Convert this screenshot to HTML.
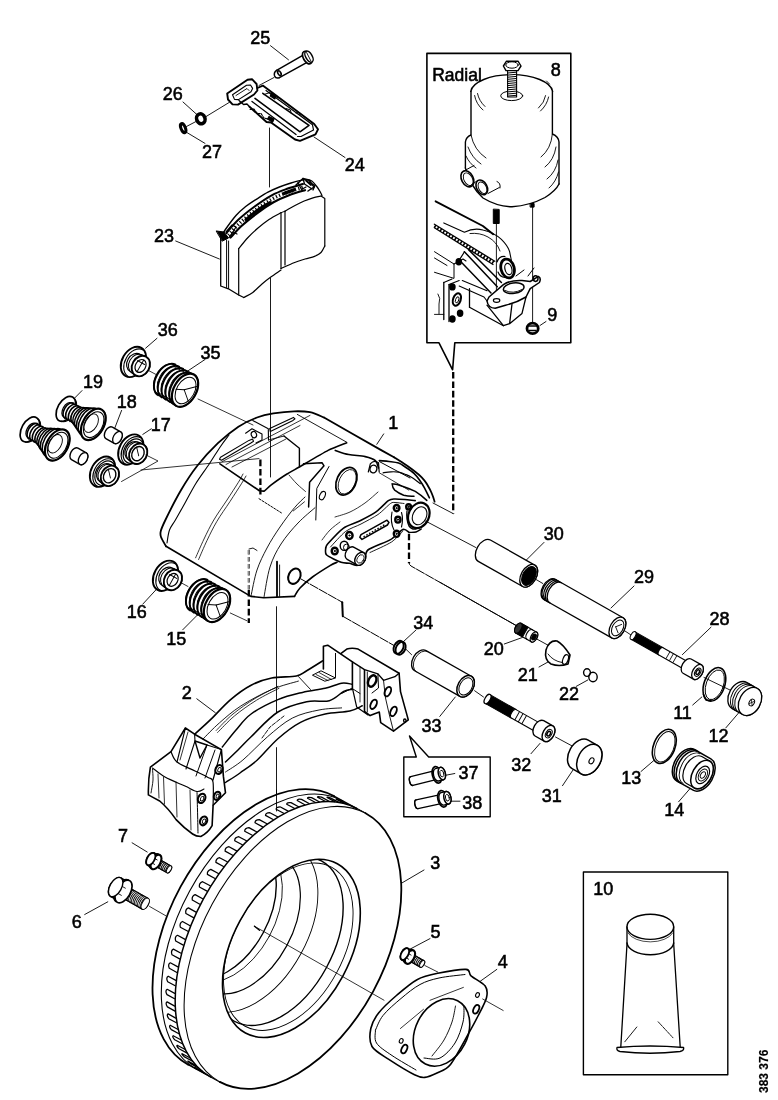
<!DOCTYPE html>
<html><head><meta charset="utf-8"><title>diagram</title>
<style>
html,body{margin:0;padding:0;background:#fff;}
body{width:778px;height:1100px;overflow:hidden;font-family:"Liberation Sans",sans-serif;}
svg{display:block;position:absolute;left:0;top:0;will-change:transform;}
svg path,svg ellipse,svg circle,svg rect,svg line{stroke:#000;stroke-linecap:round;stroke-linejoin:round;}
svg text{font-family:"Liberation Sans",sans-serif;fill:#000;stroke:#000;stroke-width:0.55;}
</style></head><body>
<svg width="778" height="1100" viewBox="0 0 778 1100" fill="none">
<rect x="0" y="0" width="778" height="1100" fill="#fff" stroke="none" style="stroke:none"/>
<text x="250.2" y="44.0" font-size="18" >25</text>
<text x="162.7" y="100.0" font-size="18" >26</text>
<text x="202.1" y="157.8" font-size="18" >27</text>
<text x="344.7" y="170.7" font-size="18" >24</text>
<text x="154.0" y="241.6" font-size="18" >23</text>
<text x="157.7" y="336.0" font-size="18" >36</text>
<text x="200.5" y="358.5" font-size="18" >35</text>
<text x="83.10000000000001" y="388.0" font-size="18" >19</text>
<text x="116.7" y="408.0" font-size="18" >18</text>
<text x="150.7" y="430.6" font-size="18" >17</text>
<text x="388.2" y="429.0" font-size="18" >1</text>
<text x="126.7" y="617.5" font-size="18" >16</text>
<text x="166.29999999999998" y="645.2" font-size="18" >15</text>
<text x="181.7" y="698.5" font-size="18" >2</text>
<text x="543.7" y="540.0" font-size="18" >30</text>
<text x="634.0" y="582.7" font-size="18" >29</text>
<text x="709.5" y="625.0" font-size="18" >28</text>
<text x="483.7" y="654.8" font-size="18" >20</text>
<text x="517.7" y="680.7" font-size="18" >21</text>
<text x="558.9000000000001" y="699.5" font-size="18" >22</text>
<text x="413.2" y="628.5" font-size="18" >34</text>
<text x="421.59999999999997" y="731.6" font-size="18" >33</text>
<text x="511.3" y="770.5" font-size="18" >32</text>
<text x="541.7" y="801.9" font-size="18" >31</text>
<text x="673.2" y="718.7" font-size="18" >11</text>
<text x="708.5" y="741.6" font-size="18" >12</text>
<text x="621.3000000000001" y="784.0" font-size="18" >13</text>
<text x="664.2" y="816.0" font-size="18" >14</text>
<text x="458.59999999999997" y="778.9" font-size="18" >37</text>
<text x="462.3" y="808.5" font-size="18" >38</text>
<text x="430.2" y="869.3" font-size="18" >3</text>
<text x="430.5" y="937.6" font-size="18" >5</text>
<text x="497.7" y="968.2" font-size="18" >4</text>
<text x="118.0" y="841.8" font-size="18" >7</text>
<text x="71.7" y="928.0" font-size="18" >6</text>
<text x="593.2" y="895.0" font-size="18" >10</text>
<text x="550.7" y="76.2" font-size="18" >8</text>
<text x="547.3000000000001" y="320.6" font-size="18" >9</text>
<text x="432.2" y="81.0" font-size="17.5" >Radial</text>
<text x="0" y="0" font-size="12" font-weight="bold" transform="translate(767.5,1093) rotate(-90)" style="stroke-width:0.2">383 376</text>
<path d="M426.9,53.4 H570.8 V342.8 H454.8 L452.6,369.8 L439,342.8 H426.9 Z" stroke-width="1.6" fill="none" />
<path d="M453.2,372.0L453.2,513.6" stroke-width="2.3" stroke-dasharray="6.6 2.8" style="stroke-linecap:butt"/>
<path d="M403.8,757 H416.3 L409.5,736 L428.7,757 H490.2 V816.7 H403.8 Z" stroke-width="1.4" fill="none" />
<path d="M583.4,872 H727.8 V1074.7 H583.4 Z" stroke-width="1.4" fill="none" />
<path d="M270.5,45.7L288.5,59.8" stroke-width="0.9" />
<path d="M183.0,102.0L198.5,116.0" stroke-width="0.9" />
<path d="M185.7,131.8L205.0,143.4" stroke-width="0.9" />
<path d="M314.0,137.0L345.0,157.5" stroke-width="0.9" />
<path d="M175.7,241.0L219.4,259.0" stroke-width="0.9" />
<path d="M544.0,542.4L526.0,560.4" stroke-width="0.9" />
<path d="M634.0,586.0L611.0,608.0" stroke-width="0.9" />
<path d="M504.3,644.0L522.3,637.5" stroke-width="0.9" />
<path d="M539.0,667.0L548.0,662.0" stroke-width="0.9" />
<path d="M576.2,686.4L587.8,680.0" stroke-width="0.9" />
<path d="M455.3,697.0L439.8,716.4" stroke-width="0.9" />
<path d="M540.0,743.4L531.0,753.7" stroke-width="0.9" />
<path d="M562.5,785.7L573.2,769.7" stroke-width="0.9" />
<path d="M641.0,771.5L653.6,760.7" stroke-width="0.9" />
<path d="M678.6,801.8L689.4,789.3" stroke-width="0.9" />
<path d="M711.0,627.2L682.4,654.6" stroke-width="0.9" />
<path d="M692.7,705.0L701.8,697.0" stroke-width="0.9" />
<path d="M725.8,727.9L739.6,711.8" stroke-width="0.9" />
<path d="M444.5,775.5L454.8,773.5" stroke-width="0.9" />
<path d="M450.7,801.2L460.0,801.2" stroke-width="0.9" />
<path d="M424.0,870.0L401.0,883.5" stroke-width="0.9" />
<path d="M430.0,938.6L410.7,948.8" stroke-width="0.9" />
<path d="M496.8,969.4L478.8,982.3" stroke-width="0.9" />
<path d="M132.1,842.8L147.2,852.0" stroke-width="0.9" />
<path d="M84.7,914.5L107.8,901.8" stroke-width="0.9" />
<path d="M383.7,433.9L376.8,444.3" stroke-width="0.9" />
<path d="M157.0,588.7L142.9,604.0" stroke-width="0.9" />
<path d="M199.4,613.0L182.7,629.8" stroke-width="0.9" />
<path d="M276.6,70.4 L303.6,54.8 M279.4,77.6 L306.6,62.6" stroke-width="1.5" fill="none" />
<path d="M276.6,70.4 Q273.5,72.5 274.6,76 Q276,79 279.4,77.6" stroke-width="1.5" fill="none" />
<ellipse cx="279.4" cy="73.2" rx="1.4" ry="2.6" transform="rotate(-30 279.4 73.2)" stroke-width="1.6" fill="none" />
<ellipse cx="307.2" cy="57.6" rx="3.8" ry="6.9" transform="rotate(-30 307.2 57.6)" stroke-width="1.7" fill="#fff" />
<ellipse cx="309.0" cy="56.6" rx="3.2" ry="6.2" transform="rotate(-30 309.0 56.6)" stroke-width="1.5" fill="#fff" />
<path d="M306.6,52.5 L310.8,60.8" stroke-width="0.9" fill="none" />
<path d="M274.0,77.5L259.0,85.5" stroke-width="0.9" />
<path d="M229.4,102.3L206.3,116.4" stroke-width="0.9" />
<path d="M227.2,93.5 L247.5,79.8 L252.0,79.2 L256.6,84.0 L257.4,90.5 L254.0,94.5 L238.0,104.6 L232.5,104.4 L228.0,99.5 Z" stroke-width="1.9" fill="#fff" />
<path d="M232.5,94.8 L246.5,85.2 L250.5,85.0 L252.6,88.4 L251.0,91.8 L238.5,99.6 L234.5,99.4 Z" stroke-width="1.1" fill="none" />
<path d="M236.0,95.5 L247.0,88.5 L249.0,90.5" stroke-width="0.9" fill="none" />
<path d="M239.0,100.5 L243.5,104.5 L247.0,104.0 L249.5,106.8" stroke-width="1.3" fill="none" />
<path d="M257.5,88.0 L262.8,85.6 L314.2,124.0 L318.0,129.3 L315.5,134.4 L300.0,140.8 L295.0,139.5 L271.0,122.5 L266.5,122.0 L249.5,106.8" stroke-width="1.9" fill="none" />
<path d="M262.8,93.3 L309.0,125.4 L300.0,131.8 L255.0,98.4" stroke-width="1.6" fill="none" />
<path d="M266.0,90.5 L312.5,124.8 L313.5,130.0 L301.0,136.5 L297.5,136.5" stroke-width="1.2" fill="none" />
<path d="M252.0,101.5 L296.0,134.5" stroke-width="1.3" fill="none" />
<path d="M271.5,93 l4.5,3 l-1.2,3 l-4.5,-3 Z" stroke-width="1.2" fill="#000" />
<path d="M269,116.5 l5,2.6 l-1.4,3.2 l-5,-3.2 Z" stroke-width="1.2" fill="#000" />
<path d="M250.0,109.5 L254.0,109.0 L257.0,113.5 L261.0,113.5 L264.0,118.0 L268.0,119.0" stroke-width="1.1" fill="none" stroke-dasharray="2.2 1.2"/>
<path d="M264.0,94.5 L270.0,92.5 L274.0,96.0 L280.0,98.5" stroke-width="1.0" fill="none" />
<path d="M286.0,108.5 L290.5,110.0 L291.0,113.0" stroke-width="1.0" fill="none" />
<path d="M296.0,113.0 L299.0,112.5 L300.0,115.0" stroke-width="1.0" fill="none" />
<ellipse cx="200.8" cy="118.8" rx="4.2" ry="5.0" transform="rotate(-20 200.8 118.8)" stroke-width="3.6" fill="none" />
<ellipse cx="183.2" cy="128.2" rx="2.2" ry="4.8" transform="rotate(-22 183.2 128.2)" stroke-width="3.0" fill="none" />
<path d="M186.5,126.5L196.0,121.5" stroke-width="0.9" />
<path d="M269.5,128.0L269.5,187.0" stroke-width="0.9" />
<path d="M270.5,278.0L270.5,477.0" stroke-width="0.9" />
<path d="M220.7,238.4 L220.7,286.0 L228.4,288.8 L238.7,295.0 L243.8,297.5" stroke-width="1.3" fill="none" />
<path d="M226.6,240.0L226.6,287.5" stroke-width="1.0" />
<path d="M228.6,241.0L228.6,288.5" stroke-width="1.0" />
<path d="M238.7,248.7L238.7,295.0" stroke-width="1.2" />
<path d="M238.7,248.7 C240.2,246.8 244.8,240.9 248.0,237.5 C251.2,234.1 254.5,231.0 258.0,228.0 C261.5,225.0 265.2,222.1 269.0,219.5 C272.8,216.9 279.0,213.8 281.0,212.7" stroke-width="1.2" fill="none" />
<path d="M285.0,211.2 C286.7,210.2 291.8,207.2 295.0,205.5 C298.2,203.8 301.2,202.3 304.2,201.0 C307.2,199.7 310.2,198.6 313.0,197.8 C315.8,197.0 319.7,196.3 321.0,196.0" stroke-width="1.2" fill="none" />
<path d="M321.0,196.0 L324.8,198.6 L324.8,246.0" stroke-width="1.2" fill="none" />
<path d="M243.8,297.5 C245.3,296.6 249.8,294.6 252.8,292.4 C255.8,290.1 259.0,286.6 262.0,284.0 C265.0,281.4 267.6,279.3 270.8,277.0 C274.0,274.7 279.3,271.2 281.0,270.0" stroke-width="1.2" fill="none" />
<path d="M281.0,268.5 C283.2,267.6 290.0,264.4 294.0,262.8 C298.0,261.2 301.6,260.1 305.0,259.0 C308.4,257.9 311.8,257.5 314.5,256.4 C317.2,255.3 319.3,254.2 321.0,252.5 C322.7,250.8 324.2,247.1 324.8,246.0" stroke-width="1.2" fill="none" />
<path d="M281.0,212.7L281.0,268.5" stroke-width="1.2" />
<path d="M285.0,211.2L285.0,265.0" stroke-width="1.2" />
<path d="M281.0,212.7L285.0,211.2" stroke-width="1.0" />
<path d="M220.7,238.0 C221.5,236.6 222.8,233.3 225.4,229.5 C228.0,225.7 232.8,219.1 236.2,215.2 C239.6,211.3 242.7,209.0 246.0,206.3 C249.3,203.7 252.6,201.7 256.3,199.3 C260.0,197.0 264.1,194.2 268.0,192.2 C271.9,190.1 275.6,188.5 279.4,187.0 C283.2,185.5 287.1,184.2 291.0,183.0 C294.9,181.8 300.0,180.6 302.5,180.0 C305.0,179.4 305.4,179.7 306.0,179.6" stroke-width="1.4" fill="none" />
<path d="M306.0,179.6 C307.0,179.8 310.1,179.9 311.8,181.0 C313.5,182.1 315.0,184.2 316.4,186.0 C317.8,187.8 319.1,189.9 320.0,191.5 C320.9,193.1 321.7,194.8 322.0,195.5" stroke-width="1.3" fill="none" />
<path d="M226.5,233.0 C228.4,230.8 233.4,224.3 238.0,220.0 C242.6,215.7 248.4,211.1 254.0,207.0 C259.6,202.9 266.2,198.3 271.7,195.3 C277.2,192.3 281.9,190.7 287.1,188.8 C292.3,186.9 300.4,184.8 303.0,184.0" stroke-width="2.0" fill="none" />
<path d="M230.5,237.5 C232.4,235.5 237.4,229.7 242.0,225.5 C246.6,221.3 252.8,216.4 258.0,212.5 C263.2,208.6 268.3,205.1 273.5,202.2 C278.7,199.3 283.8,197.2 289.0,195.2 C294.2,193.2 302.3,191.0 305.0,190.2" stroke-width="2.2" fill="none" />
<path d="M228.5,235.2 C230.4,233.1 235.4,227.0 240.0,222.8 C244.6,218.6 250.6,213.8 256.0,209.8 C261.4,205.8 267.3,201.8 272.6,198.8 C277.9,195.8 282.8,193.9 288.0,192.0 C293.2,190.1 301.3,187.9 304.0,187.1" stroke-width="3.6" fill="none" stroke-dasharray="1.2 2.2" style="stroke-linecap:butt"/>
<path d="M246.0,219.5 C248.0,217.9 254.0,212.8 258.0,210.0 C262.0,207.2 268.0,203.8 270.0,202.5" stroke-width="3.0" fill="none" />
<path d="M284.0,193.5 C285.7,192.9 292.3,190.4 294.0,189.8" stroke-width="3.4" fill="none" />
<path d="M216.5,231.0 L224.0,232.0 L228.5,238.0 L222.5,241.0 Z" stroke-width="1.0" fill="#000" />
<path d="M226.0,232.0 L232.0,225.0 L236.0,227.0 L231.0,235.0" stroke-width="1.2" fill="none" />
<path d="M229.0,237.5 L233.0,232.0 L237.0,234.0" stroke-width="1.2" fill="none" />
<path d="M296.0,185.0 L303.0,178.5 L309.0,180.0 L314.0,187.0 L308.0,191.0" stroke-width="1.5" fill="none" />
<path d="M303.0,178.5 L304.5,184.0 L312.0,189.0" stroke-width="1.3" fill="none" />
<path d="M298.0,182.5 L301.5,189.5 L306.0,187.0" stroke-width="1.3" fill="none" />
<path d="M306.0,180.5 L311.0,185.0" stroke-width="1.8" fill="none" />
<path d="M309.0,182.0 L315.0,185.5 L313.0,190.0" stroke-width="1.3" fill="none" />
<path d="M142.0,367.0L156.0,374.5" stroke-width="0.8" />
<path d="M198.0,399.0L253.0,425.0" stroke-width="0.8" />
<g transform="translate(133.4,361.9) rotate(29.5)"><ellipse cx="0.0" cy="0" rx="11.3" ry="16.2" stroke-width="1.9" fill="#fff"/><path d="M2.6,-15.2 A10.7,15.2 0 0 0 2.6,15.2" stroke-width="1.1"/><path d="M2.0,-10.0 L8.5,-10.7 A8.6,10.7 0 0 1 8.5,10.7 L2.0,10.0 A8.0,10.0 0 0 1 2.0,-10.0 Z" stroke-width="1.2" fill="#fff"/><ellipse cx="8.5" cy="0" rx="8.6" ry="10.7" stroke-width="1.9" fill="#fff"/><ellipse cx="8.2" cy="0" rx="5.1" ry="6.8" stroke-width="1.2" fill="none"/><path d="M4.5,-10.4 A8.3,10.4 0 0 0 4.5,10.4" stroke-width="1.0"/><path d="M3.0,-3.2 L11.0,-3.2" stroke-width="1.0"/><path d="M8.0,-6.8 L8.0,6.8" stroke-width="0.9"/></g>
<g transform="translate(185.0,390.2) rotate(29.5)"><path d="M-22.0,-16.7 L0.0,-18.0 A11.2,18.0 0 0 1 0.0,18.0 L-22.0,16.7 A10.4,16.7 0 0 1 -22.0,-16.7 Z" stroke-width="1.4" fill="#fff"/><path d="M-20.9,-17.6 A10.9,17.6 0 0 0 -20.9,17.6" stroke-width="1.9"/><path d="M-19.0,-15.5 A9.6,15.5 0 0 0 -19.0,15.5" stroke-width="0.9"/><path d="M-16.5,-17.6 A10.9,17.6 0 0 0 -16.5,17.6" stroke-width="1.9"/><path d="M-14.6,-15.5 A9.6,15.5 0 0 0 -14.6,15.5" stroke-width="0.9"/><path d="M-12.1,-17.6 A10.9,17.6 0 0 0 -12.1,17.6" stroke-width="1.9"/><path d="M-10.2,-15.5 A9.6,15.5 0 0 0 -10.2,15.5" stroke-width="0.9"/><path d="M-7.7,-17.6 A10.9,17.6 0 0 0 -7.7,17.6" stroke-width="1.9"/><path d="M-5.8,-15.5 A9.6,15.5 0 0 0 -5.8,15.5" stroke-width="0.9"/><path d="M-3.3,-17.6 A10.9,17.6 0 0 0 -3.3,17.6" stroke-width="1.9"/><path d="M-1.4,-15.5 A9.6,15.5 0 0 0 -1.4,15.5" stroke-width="0.9"/><ellipse cx="0.0" cy="0" rx="11.2" ry="18.0" stroke-width="2.2" fill="#fff"/><ellipse cx="0.6" cy="0" rx="8.9" ry="14.4" stroke-width="1.0" fill="none"/><path d="M-1.0,0.0 L8.4,-9.0" stroke-width="0.9"/><path d="M-1.0,0.0 L8.4,8.1" stroke-width="0.9"/><path d="M-1.0,0.0 L-8.4,3.6" stroke-width="0.9"/></g>
<g transform="translate(93.3,424.4) rotate(29.5)"><ellipse cx="-31.5" cy="0" rx="8.2" ry="13.6" stroke-width="1.7" fill="#fff"/><path d="M-29.8,-13.0 A7.8,13.0 0 0 1 -29.8,13.0" stroke-width="1.0"/><path d="M-29.5,-8.0 L-18.0,-8.5 A5.1,8.5 0 0 1 -18.0,8.5 L-29.5,8.0 A4.8,8.0 0 0 1 -29.5,-8.0 Z" stroke-width="1.2" fill="#fff"/><path d="M-27.5,-8.8 A5.3,8.8 0 0 0 -27.5,8.8" stroke-width="1.6"/><path d="M-24.5,-8.8 A5.3,8.8 0 0 0 -24.5,8.8" stroke-width="1.6"/><path d="M-21.5,-8.8 A5.3,8.8 0 0 0 -21.5,8.8" stroke-width="1.6"/><path d="M-18.5,-8.8 A5.3,8.8 0 0 0 -18.5,8.8" stroke-width="1.6"/><path d="M-18.0,-9.0 L0.0,-17.0 A10.5,17.0 0 0 1 0.0,17.0 L-18.0,9.0 A5.6,9.0 0 0 1 -18.0,-9.0 Z" stroke-width="1.2" fill="#fff"/><path d="M-15.0,-10.2 A6.3,10.2 0 0 0 -15.0,10.2" stroke-width="1.5"/><path d="M-11.5,-12.0 A7.4,12.0 0 0 0 -11.5,12.0" stroke-width="1.5"/><path d="M-8.0,-13.6 A8.4,13.6 0 0 0 -8.0,13.6" stroke-width="1.5"/><path d="M-4.5,-15.3 A9.5,15.3 0 0 0 -4.5,15.3" stroke-width="1.5"/><ellipse cx="0.0" cy="0" rx="10.5" ry="17.0" stroke-width="2.2" fill="#fff"/><ellipse cx="0.5" cy="0" rx="8.7" ry="14.0" stroke-width="1.1" fill="none"/><ellipse cx="-2.5" cy="0" rx="6.2" ry="10.0" stroke-width="0.9" fill="none"/></g>
<g transform="translate(57.3,445.0) rotate(29.5)"><ellipse cx="-31.5" cy="0" rx="8.2" ry="13.6" stroke-width="1.7" fill="#fff"/><path d="M-29.8,-13.0 A7.8,13.0 0 0 1 -29.8,13.0" stroke-width="1.0"/><path d="M-29.5,-8.0 L-18.0,-8.5 A5.1,8.5 0 0 1 -18.0,8.5 L-29.5,8.0 A4.8,8.0 0 0 1 -29.5,-8.0 Z" stroke-width="1.2" fill="#fff"/><path d="M-27.5,-8.8 A5.3,8.8 0 0 0 -27.5,8.8" stroke-width="1.6"/><path d="M-24.5,-8.8 A5.3,8.8 0 0 0 -24.5,8.8" stroke-width="1.6"/><path d="M-21.5,-8.8 A5.3,8.8 0 0 0 -21.5,8.8" stroke-width="1.6"/><path d="M-18.5,-8.8 A5.3,8.8 0 0 0 -18.5,8.8" stroke-width="1.6"/><path d="M-18.0,-9.0 L0.0,-17.0 A10.5,17.0 0 0 1 0.0,17.0 L-18.0,9.0 A5.6,9.0 0 0 1 -18.0,-9.0 Z" stroke-width="1.2" fill="#fff"/><path d="M-15.0,-10.2 A6.3,10.2 0 0 0 -15.0,10.2" stroke-width="1.5"/><path d="M-11.5,-12.0 A7.4,12.0 0 0 0 -11.5,12.0" stroke-width="1.5"/><path d="M-8.0,-13.6 A8.4,13.6 0 0 0 -8.0,13.6" stroke-width="1.5"/><path d="M-4.5,-15.3 A9.5,15.3 0 0 0 -4.5,15.3" stroke-width="1.5"/><ellipse cx="0.0" cy="0" rx="10.5" ry="17.0" stroke-width="2.2" fill="#fff"/><ellipse cx="0.5" cy="0" rx="8.7" ry="14.0" stroke-width="1.1" fill="none"/><ellipse cx="-2.5" cy="0" rx="6.2" ry="10.0" stroke-width="0.9" fill="none"/></g>
<g transform="translate(113.3,435.2) rotate(29.5)"><path d="M-4.8,-6.6 L4.8,-6.6 A4.1,6.6 0 0 1 4.8,6.6 L-4.8,6.6 A4.1,6.6 0 0 1 -4.8,-6.6 Z" stroke-width="1.4" fill="#fff"/><ellipse cx="4.8" cy="0" rx="4.1" ry="6.6" stroke-width="1.3" fill="#fff"/></g>
<g transform="translate(78.9,456.3) rotate(29.5)"><path d="M-4.8,-6.6 L4.8,-6.6 A4.1,6.6 0 0 1 4.8,6.6 L-4.8,6.6 A4.1,6.6 0 0 1 -4.8,-6.6 Z" stroke-width="1.4" fill="#fff"/><ellipse cx="4.8" cy="0" rx="4.1" ry="6.6" stroke-width="1.3" fill="#fff"/></g>
<g transform="translate(130.8,449.6) rotate(29.5)"><ellipse cx="0.0" cy="0" rx="11.3" ry="16.2" stroke-width="1.9" fill="#fff"/><path d="M2.6,-15.2 A10.7,15.2 0 0 0 2.6,15.2" stroke-width="1.1"/><ellipse cx="3.0" cy="0" rx="9.3" ry="13.0" stroke-width="1.2" fill="none"/><path d="M3.0,-10.0 L8.5,-10.7 A8.6,10.7 0 0 1 8.5,10.7 L3.0,10.0 A8.0,10.0 0 0 1 3.0,-10.0 Z" stroke-width="1.2" fill="#fff"/><ellipse cx="8.5" cy="0" rx="8.6" ry="10.7" stroke-width="1.9" fill="#fff"/><ellipse cx="8.2" cy="0" rx="5.8" ry="7.5" stroke-width="1.4" fill="none"/><path d="M5.0,-10.4 A8.3,10.4 0 0 0 5.0,10.4" stroke-width="1.0"/><path d="M4.0,-4.9 L10.0,1.6" stroke-width="0.9"/></g>
<g transform="translate(102.5,471.7) rotate(29.5)"><ellipse cx="0.0" cy="0" rx="11.3" ry="16.2" stroke-width="1.9" fill="#fff"/><path d="M2.6,-15.2 A10.7,15.2 0 0 0 2.6,15.2" stroke-width="1.1"/><ellipse cx="3.0" cy="0" rx="9.3" ry="13.0" stroke-width="1.2" fill="none"/><path d="M3.0,-10.0 L8.5,-10.7 A8.6,10.7 0 0 1 8.5,10.7 L3.0,10.0 A8.0,10.0 0 0 1 3.0,-10.0 Z" stroke-width="1.2" fill="#fff"/><ellipse cx="8.5" cy="0" rx="8.6" ry="10.7" stroke-width="1.9" fill="#fff"/><ellipse cx="8.2" cy="0" rx="5.8" ry="7.5" stroke-width="1.4" fill="none"/><path d="M5.0,-10.4 A8.3,10.4 0 0 0 5.0,10.4" stroke-width="1.0"/><path d="M4.0,-4.9 L10.0,1.6" stroke-width="0.9"/></g>
<path d="M146.0,455.0 L158.0,461.0 L121.5,481.5" stroke-width="0.8" fill="none" />
<path d="M141.0,470.0L259.0,458.6" stroke-width="0.8" />
<path d="M176.0,580.0L188.0,586.5" stroke-width="0.8" />
<g transform="translate(165.5,575.8) rotate(29.5)"><ellipse cx="0.0" cy="0" rx="11.3" ry="16.2" stroke-width="1.9" fill="#fff"/><path d="M2.6,-15.2 A10.7,15.2 0 0 0 2.6,15.2" stroke-width="1.1"/><path d="M2.0,-10.0 L8.5,-10.7 A8.6,10.7 0 0 1 8.5,10.7 L2.0,10.0 A8.0,10.0 0 0 1 2.0,-10.0 Z" stroke-width="1.2" fill="#fff"/><ellipse cx="8.5" cy="0" rx="8.6" ry="10.7" stroke-width="1.9" fill="#fff"/><ellipse cx="8.2" cy="0" rx="5.1" ry="6.8" stroke-width="1.2" fill="none"/><path d="M4.5,-10.4 A8.3,10.4 0 0 0 4.5,10.4" stroke-width="1.0"/><path d="M3.0,-3.2 L11.0,-3.2" stroke-width="1.0"/><path d="M8.0,-6.8 L8.0,6.8" stroke-width="0.9"/></g>
<g transform="translate(217.0,605.5) rotate(29.5)"><path d="M-22.0,-16.7 L0.0,-18.0 A11.2,18.0 0 0 1 0.0,18.0 L-22.0,16.7 A10.4,16.7 0 0 1 -22.0,-16.7 Z" stroke-width="1.4" fill="#fff"/><path d="M-20.9,-17.6 A10.9,17.6 0 0 0 -20.9,17.6" stroke-width="1.9"/><path d="M-19.0,-15.5 A9.6,15.5 0 0 0 -19.0,15.5" stroke-width="0.9"/><path d="M-16.5,-17.6 A10.9,17.6 0 0 0 -16.5,17.6" stroke-width="1.9"/><path d="M-14.6,-15.5 A9.6,15.5 0 0 0 -14.6,15.5" stroke-width="0.9"/><path d="M-12.1,-17.6 A10.9,17.6 0 0 0 -12.1,17.6" stroke-width="1.9"/><path d="M-10.2,-15.5 A9.6,15.5 0 0 0 -10.2,15.5" stroke-width="0.9"/><path d="M-7.7,-17.6 A10.9,17.6 0 0 0 -7.7,17.6" stroke-width="1.9"/><path d="M-5.8,-15.5 A9.6,15.5 0 0 0 -5.8,15.5" stroke-width="0.9"/><path d="M-3.3,-17.6 A10.9,17.6 0 0 0 -3.3,17.6" stroke-width="1.9"/><path d="M-1.4,-15.5 A9.6,15.5 0 0 0 -1.4,15.5" stroke-width="0.9"/><ellipse cx="0.0" cy="0" rx="11.2" ry="18.0" stroke-width="2.2" fill="#fff"/><ellipse cx="0.6" cy="0" rx="8.9" ry="14.4" stroke-width="1.0" fill="none"/><path d="M-1.0,0.0 L8.4,-9.0" stroke-width="0.9"/><path d="M-1.0,0.0 L8.4,8.1" stroke-width="0.9"/><path d="M-1.0,0.0 L-8.4,3.6" stroke-width="0.9"/></g>
<path d="M230.3,613.0L247.0,620.8" stroke-width="0.8" />
<path d="M157.0,338.3L145.6,348.2" stroke-width="0.9" />
<path d="M205.0,359.5L188.0,370.8" stroke-width="0.9" />
<path d="M82.0,390.6L75.0,397.7" stroke-width="0.9" />
<path d="M121.6,410.4L114.5,428.8" stroke-width="0.9" />
<path d="M151.3,428.8L142.8,434.4" stroke-width="0.9" />
<path d="M166.0,546.3 C165.2,544.8 161.9,539.5 161.0,537.0 C160.1,534.5 160.1,533.8 160.8,531.0 C161.5,528.2 162.1,526.8 165.4,520.0 C168.7,513.2 175.5,499.5 180.8,490.5 C186.1,481.5 191.1,473.7 197.3,465.8 C203.5,457.9 211.1,449.7 217.9,443.2 C224.8,436.7 231.9,431.0 238.4,426.7 C244.9,422.4 251.2,419.7 257.0,417.5 C262.8,415.3 267.2,414.4 273.4,413.4 C279.6,412.4 287.9,411.5 294.0,411.3 C300.1,411.1 305.0,411.2 310.0,412.2 C315.0,413.2 321.7,416.6 324.0,417.5" stroke-width="1.8" fill="none" />
<path d="M324.0,417.5 L352.8,434.0 L381.6,450.4 L394.0,457.2" stroke-width="1.8" fill="none" />
<path d="M394.0,457.2 C396.2,458.6 397.6,459.4 402.4,462.6 C407.2,465.8 406.9,465.4 412.0,469.3 C417.1,473.2 417.4,472.8 421.7,477.3 C426.0,481.8 425.3,481.5 428.0,486.0 C430.7,490.5 430.2,489.8 432.0,494.0 C433.8,498.2 433.9,499.6 434.6,501.7" stroke-width="1.8" fill="none" />
<path d="M166.0,546.3 L250.8,596.4 L263.7,597.7 L294.5,596.4" stroke-width="1.6" fill="none" />
<path d="M294.5,596.4 C295.4,595.0 297.0,591.2 300.0,588.0 C303.0,584.8 307.5,580.7 312.5,577.0 C317.5,573.3 325.9,568.1 330.0,565.6 C334.1,563.1 335.8,562.8 337.0,562.3" stroke-width="1.6" fill="none" />
<path d="M167.0,543.0 C167.4,540.8 168.1,533.8 169.5,530.0 C170.9,526.2 172.7,524.7 175.4,520.0 C178.1,515.3 182.3,507.8 185.7,501.7 C189.1,495.6 192.1,489.5 196.0,483.2 C199.9,476.9 205.3,469.9 209.4,463.7 C213.5,457.5 217.4,451.0 220.7,446.2 C224.0,441.4 227.6,436.9 229.0,435.0" stroke-width="1.1" fill="none" />
<path d="M195.6,557.8 C197.0,554.7 201.0,545.3 204.0,539.0 C207.0,532.7 210.0,526.5 213.8,520.0 C217.6,513.5 222.9,506.3 227.0,500.0 C231.1,493.7 235.7,486.6 238.4,482.3 C241.1,478.0 242.2,475.4 243.0,474.0" stroke-width="0.8" fill="none" />
<path d="M198.6,559.5 C200.0,556.3 204.0,546.8 207.0,540.5 C210.0,534.2 213.0,528.0 216.8,521.5 C220.6,515.0 225.9,507.8 230.0,501.5 C234.1,495.2 238.7,488.1 241.4,483.8 C244.1,479.6 245.2,477.3 246.0,476.0" stroke-width="0.8" fill="none" />
<path d="M251.0,596.0 C252.0,591.7 254.3,578.0 257.0,570.0 C259.7,562.0 263.2,555.2 267.0,548.0 C270.8,540.8 275.4,533.7 280.0,527.0 C284.6,520.3 290.3,512.7 294.5,507.7 C298.7,502.7 303.2,498.8 305.0,497.0" stroke-width="0.9" fill="none" />
<path d="M264.0,597.0 C265.0,592.0 267.2,575.8 270.0,567.0 C272.8,558.2 276.3,551.3 281.0,544.0 C285.7,536.7 292.3,529.0 298.0,523.0 C303.7,517.0 312.2,510.2 315.0,507.7" stroke-width="0.9" fill="none" />
<path d="M252.8,420.6 L268.3,428.8 L268.5,440.0" stroke-width="1.1" fill="none" />
<path d="M219.9,463.8 L259.0,490.5" stroke-width="1.6" fill="none" />
<path d="M259.0,490.5 C259.5,490.6 263.2,491.5 264.4,491.0 C265.6,490.5 268.3,487.0 270.6,485.3 C272.9,483.6 283.9,475.9 287.0,474.0 C290.1,472.1 297.3,468.2 301.4,465.8 C305.5,463.4 323.6,452.7 328.1,450.4 C332.6,448.1 344.8,443.6 346.7,442.8" stroke-width="1.6" fill="none" />
<path d="M297.3,414.4 L346.7,442.2" stroke-width="0.9" fill="none" />
<path d="M284.0,436.0 L299.4,448.3 L299.4,466.8" stroke-width="1.4" fill="none" />
<path d="M268.5,440.0 L284.0,436.0" stroke-width="0.9" fill="none" />
<path d="M222.0,461.7 L310.0,415.4" stroke-width="0.8" fill="none" />
<path d="M226.0,464.5 L300.0,425.5" stroke-width="0.8" fill="none" />
<path d="M232.0,467.0 L286.0,439.0" stroke-width="0.8" fill="none" />
<path d="M221.5,460.2 L250.5,443.2 L253.5,441.2 L252.5,439.0 L249.0,440.4 L220.5,457.2 L219.5,459.2 Z" stroke-width="1.1" fill="none" />
<path d="M270.3,431.6 L293.0,420.4 L295.0,418.8 L293.4,417.4 L269.7,428.6 Z" stroke-width="1.1" fill="none" />
<path d="M245.6,433.2 L252.0,428.8 L262.0,434.0 L262.0,440.0 L256.0,443.0" stroke-width="1.1" fill="none" />
<ellipse cx="253.9" cy="434.6" rx="2.6" ry="3.2" transform="rotate(-20 253.9 434.6)" stroke-width="1.2" fill="none" />
<path d="M260.4,459.6L260.4,494.6" stroke-width="2.3" stroke-dasharray="6.6 2.8" style="stroke-linecap:butt"/>
<path d="M259.0,498.7 L281.6,513.0" stroke-width="1.0" fill="none" stroke-dasharray="2 1.5"/>
<path d="M293.2,511.0L304.5,501.8" stroke-width="0.8" />
<path d="M303.5,463.8 L322.0,462.7 L324.0,465.8 L309.6,482.3 L308.6,507.0" stroke-width="1.5" fill="none" />
<path d="M329.0,466.5 L316.8,488.4 L315.8,520.0" stroke-width="1.0" fill="none" />
<path d="M289.0,475.0 C290.3,476.5 294.2,481.2 297.0,484.0 C299.8,486.8 304.1,490.2 305.5,491.5" stroke-width="0.8" fill="none" />
<path d="M335.3,450.4 C337.5,451.1 343.7,453.5 348.7,454.5 C353.7,455.5 360.8,455.6 365.2,456.6 C369.6,457.6 373.2,458.8 375.4,460.7 C377.6,462.6 378.0,466.7 378.5,467.9" stroke-width="1.6" fill="none" />
<path d="M379.6,461.7 L410.0,478.0" stroke-width="1.0" fill="none" />
<ellipse cx="346.4" cy="481.2" rx="9.6" ry="14.6" transform="rotate(25 346.4 481.2)" stroke-width="1.8" fill="none" />
<ellipse cx="347.2" cy="481.8" rx="8.0" ry="13.0" transform="rotate(25 347.2 481.8)" stroke-width="0.8" fill="none" />
<ellipse cx="322.4" cy="495.6" rx="2.6" ry="4.4" transform="rotate(25 322.4 495.6)" stroke-width="1.1" fill="none" />
<path d="M368.3,472 L370.3,463.8 Q374,459.5 378.5,462.7 L379.2,472" stroke-width="1.2" fill="none" />
<ellipse cx="373.4" cy="469.0" rx="3.4" ry="3.8" transform="rotate(20 373.4 469.0)" stroke-width="1.4" fill="none" />
<ellipse cx="294.4" cy="576.2" rx="5.8" ry="8.0" transform="rotate(25 294.4 576.2)" stroke-width="2.0" fill="none" />
<path d="M277.0,561.7L277.0,596.4" stroke-width="1.8" />
<path d="M279.6,565.0L279.6,596.4" stroke-width="0.9" />
<path d="M276.5,606.7L276.5,712.6" stroke-width="0.9" />
<path d="M276.5,747.6L276.5,811.0" stroke-width="0.9" />
<path d="M248.8,550.0L248.8,590.0" stroke-width="2.0" stroke-dasharray="4.5 2.5" style="stroke-linecap:butt"/>
<path d="M248.8,550.0L248.8,590.0" stroke-width="0.8" stroke-dasharray="4.5 2.5" style="stroke-linecap:butt;stroke:#fff"/>
<path d="M249,549 l4,-1 l4,2.5" stroke-width="0.9" fill="none" />
<path d="M248.8,590.0L248.8,623.0" stroke-width="2.3" stroke-dasharray="6.6 2.8" style="stroke-linecap:butt"/>
<path d="M379.3,460.6 C380.9,460.8 385.8,461.1 389.0,461.5 C392.2,461.9 395.8,462.1 398.6,463.1 C401.4,464.1 403.4,465.8 406.0,467.5 C408.6,469.2 411.8,471.3 414.0,473.4 C416.2,475.5 417.8,477.6 419.5,480.0 C421.2,482.4 422.7,484.6 424.3,487.6 C425.9,490.6 428.5,496.1 429.4,497.8" stroke-width="1.6" fill="none" />
<path d="M383.1,472.8 C384.4,472.6 388.4,471.9 391.0,471.8 C393.6,471.7 396.3,471.7 398.6,472.1 C400.9,472.5 402.9,473.3 405.0,474.2 C407.1,475.1 408.8,475.7 411.4,477.3 C414.0,478.9 418.9,482.6 420.4,483.7" stroke-width="1.2" fill="none" />
<path d="M392.1,483.7 Q392.5,488 394.7,490.1 Q399,493.5 403.7,495.3 Q409,496.5 414,496.2 M392.1,483.7 Q397,484 402.4,486.3 Q409,488.5 415.3,491.4 Q421,495 426.8,500.4" stroke-width="1.5" fill="none" />
<path d="M379.3,472.8L408.8,490.1" stroke-width="0.8" />
<path d="M325.7,547.9 C326.0,547.4 325.5,546.4 327.8,543.8 C330.1,541.2 339.0,531.3 343.2,528.3 C347.4,525.3 355.2,523.2 359.6,521.0 C364.0,518.8 372.2,514.6 376.0,511.9 C379.8,509.2 385.9,502.3 388.4,500.6 C390.9,498.9 392.4,499.1 394.6,499.0 C396.8,498.9 402.3,499.3 405.0,499.5 C407.7,499.7 413.8,500.5 415.2,500.6" stroke-width="1.6" fill="none" />
<path d="M409.0,532.4 C408.2,532.0 405.3,528.4 402.8,529.4 C400.3,530.4 395.2,536.9 390.5,539.6 C385.8,542.3 371.3,547.3 367.9,550.0 C364.5,552.7 366.2,558.2 364.8,560.2 C363.4,562.2 359.7,564.9 357.6,565.3 C355.5,565.7 351.6,563.7 349.4,563.3 C347.2,562.9 344.1,563.4 341.1,562.3 C338.1,561.2 328.8,556.9 326.7,555.0 C324.6,553.1 325.8,548.8 325.7,547.9" stroke-width="1.6" fill="none" />
<ellipse cx="418.8" cy="515.4" rx="10.2" ry="13.2" transform="rotate(25 418.8 515.4)" stroke-width="2.2" fill="#fff" />
<ellipse cx="419.6" cy="515.8" rx="6.8" ry="9.4" transform="rotate(25 419.6 515.8)" stroke-width="1.1" fill="none" />
<path d="M409.0,532.4 C410.2,532.3 413.9,532.6 416.0,532.0 C418.1,531.4 420.4,529.5 421.3,529.0" stroke-width="1.4" fill="none" />
<path d="M362.0,539.4 L387.4,525.0 L389.0,522.4 L387.0,520.2 L361.0,534.6 L359.8,537.2 Z" stroke-width="1.5" fill="none" />
<path d="M363.5,536.8L385.5,524.2" stroke-width="1.3" stroke-dasharray="1.6 1.6" style="stroke-linecap:butt"/>
<ellipse cx="396.6" cy="508.1" rx="2.8" ry="3.1" transform="rotate(0 396.6 508.1)" stroke-width="2.4" fill="#fff" />
<ellipse cx="396.6" cy="508.1" rx="0.6" ry="0.6" transform="rotate(0 396.6 508.1)" stroke-width="1.0" fill="#000" />
<ellipse cx="397.9" cy="519.7" rx="2.6" ry="2.9" transform="rotate(0 397.9 519.7)" stroke-width="2.4" fill="#fff" />
<ellipse cx="397.9" cy="519.7" rx="0.6" ry="0.6" transform="rotate(0 397.9 519.7)" stroke-width="1.0" fill="#000" />
<ellipse cx="396.6" cy="533.8" rx="2.8" ry="3.1" transform="rotate(0 396.6 533.8)" stroke-width="2.4" fill="#fff" />
<ellipse cx="396.6" cy="533.8" rx="0.6" ry="0.6" transform="rotate(0 396.6 533.8)" stroke-width="1.0" fill="#000" />
<ellipse cx="408.6" cy="506.8" rx="2.4" ry="2.6" transform="rotate(0 408.6 506.8)" stroke-width="2.4" fill="#fff" />
<ellipse cx="408.6" cy="506.8" rx="0.6" ry="0.6" transform="rotate(0 408.6 506.8)" stroke-width="1.0" fill="#000" />
<ellipse cx="349.4" cy="535.5" rx="3.2" ry="3.5" transform="rotate(0 349.4 535.5)" stroke-width="2.4" fill="#fff" />
<ellipse cx="349.4" cy="535.5" rx="0.6" ry="0.6" transform="rotate(0 349.4 535.5)" stroke-width="1.0" fill="#000" />
<ellipse cx="334.7" cy="551.0" rx="3.0" ry="3.3" transform="rotate(0 334.7 551.0)" stroke-width="2.4" fill="#fff" />
<ellipse cx="334.7" cy="551.0" rx="0.6" ry="0.6" transform="rotate(0 334.7 551.0)" stroke-width="1.0" fill="#000" />
<ellipse cx="344.2" cy="545.8" rx="4.0" ry="4.6" transform="rotate(0 344.2 545.8)" stroke-width="1.4" fill="none" />
<ellipse cx="346.5" cy="547.5" rx="3.0" ry="3.4" transform="rotate(0 346.5 547.5)" stroke-width="1.0" fill="none" />
<path d="M330.5,547.0 C332.5,544.9 341.4,534.6 345.5,531.5 C349.6,528.4 356.7,526.3 361.0,524.0 C365.3,521.7 374.1,517.2 378.0,514.5 C381.9,511.8 388.2,505.1 390.5,503.5 C392.8,501.9 393.2,502.5 395.0,502.5 C396.8,502.5 402.8,503.4 404.0,503.5" stroke-width="0.9" fill="none" />
<path d="M403.0,531.0 C401.5,532.5 395.9,539.1 391.5,542.0 C387.1,544.9 372.9,551.1 370.0,552.5" stroke-width="0.9" fill="none" />
<path d="M392,512 Q390,522 394,530 M401.5,512.5 Q403.5,519 401.5,527" stroke-width="1.1" fill="none" />
<path d="M407,511 Q406,519 409,526 Q412,530 416,529" stroke-width="1.3" fill="none" />
<g transform="translate(360.2,558.8) rotate(29.5)"><path d="M-11.0,-7.0 L0.0,-7.0 A4.9,7.0 0 0 1 0.0,7.0 L-11.0,7.0 A4.9,7.0 0 0 1 -11.0,-7.0 Z" stroke-width="1.4" fill="#fff"/><ellipse cx="0.0" cy="0" rx="4.9" ry="7.0" stroke-width="1.4" fill="#fff"/><ellipse cx="0.3" cy="0" rx="3.1" ry="4.5" stroke-width="0.8" fill="none"/></g>
<path d="M335.0,517.0 C337.5,516.2 345.0,514.3 350.0,512.0 C355.0,509.7 360.3,506.3 365.0,503.0 C369.7,499.7 375.8,493.8 378.0,492.0" stroke-width="0.8" fill="none" />
<path d="M322.0,540.0 C323.3,538.3 327.0,533.0 330.0,530.0 C333.0,527.0 338.3,523.3 340.0,522.0" stroke-width="0.8" fill="none" />
<path d="M453.2,513.6L433.0,503.0" stroke-width="0.9" />
<path d="M409.0,533.7L409.0,563.2" stroke-width="2.3" stroke-dasharray="6.6 2.8" style="stroke-linecap:butt"/>
<path d="M409,562.3 Q409,565 411,566 L517,626" stroke-width="1.0" fill="none" stroke-dasharray="9 1.5"/>
<path d="M425.5,521.0L476.0,547.6" stroke-width="0.9" />
<path d="M301,579 L342.2,602.2 M343.4,616.6 L394,645.5" stroke-width="1.0" fill="none" stroke-dasharray="9 1.5"/>
<path d="M342.2,602.2 L342.8,616.2" stroke-width="2.0" fill="none" />
<path d="M536.4,579.7L542.8,583.5" stroke-width="0.9" />
<path d="M625.0,631.0L632.8,636.2" stroke-width="0.9" />
<path d="M704.0,677.5L732.7,691.3" stroke-width="0.9" />
<path d="M536.4,638.8L548.0,645.2" stroke-width="0.9" />
<path d="M405.0,648.3L411.6,654.7" stroke-width="0.9" />
<path d="M474.6,690.7L483.5,697.0" stroke-width="0.9" />
<path d="M555.5,737.0L572.2,746.0" stroke-width="0.9" />
<g transform="translate(528.7,575.8) rotate(29.5)"><path d="M-51.0,-12.3 L0.0,-12.3 A7.6,12.3 0 0 1 0.0,12.3 L-51.0,12.3 A7.6,12.3 0 0 1 -51.0,-12.3 Z" stroke-width="1.3" fill="#fff"/><ellipse cx="0.0" cy="0" rx="7.6" ry="12.3" stroke-width="1.3" fill="#fff"/><ellipse cx="0.3" cy="0" rx="6.3" ry="10.2" stroke-width="1.0" fill="#000"/></g>
<g transform="translate(617.4,627.8) rotate(29.5)"><path d="M-78.0,-11.6 L0.0,-11.6 A7.2,11.6 0 0 1 0.0,11.6 L-78.0,11.6 A7.2,11.6 0 0 1 -78.0,-11.6 Z" stroke-width="1.3" fill="#fff"/><path d="M-77.0,-11.6 A7.2,11.6 0 0 0 -77.0,11.6" stroke-width="1.3"/><path d="M-75.0,-11.6 A7.2,11.6 0 0 0 -75.0,11.6" stroke-width="1.3"/><path d="M-73.0,-11.6 A7.2,11.6 0 0 0 -73.0,11.6" stroke-width="1.3"/><path d="M-71.0,-11.6 A7.2,11.6 0 0 0 -71.0,11.6" stroke-width="1.3"/><ellipse cx="0.0" cy="0" rx="7.2" ry="11.6" stroke-width="1.3" fill="#fff"/><ellipse cx="0.3" cy="0" rx="5.3" ry="8.5" stroke-width="1.0" fill="none"/><path d="M-2.0,0.0 L2.0,-5.0" stroke-width="0.8"/><path d="M-2.0,0.0 L3.0,4.0" stroke-width="0.8"/></g>
<g transform="translate(697.5,672.0) rotate(29.5)"><path d="M-74,-4.2 L-42,-4.2 L-42,4.2 L-74,4.2 Z" stroke-width="1" fill="#000"/><ellipse cx="-74.0" cy="0" rx="2.2" ry="4.4" stroke-width="1.0" fill="#fff"/><path d="M-42.0,-4.2 L-8.0,-4.2 A2.1,4.2 0 0 1 -8.0,4.2 L-42.0,4.2 A2.1,4.2 0 0 1 -42.0,-4.2 Z" stroke-width="1.1" fill="#fff"/><path d="M-34.0,-3.5 L-34.0,3.5" stroke-width="0.8"/><path d="M-30.0,-3.5 L-30.0,3.5" stroke-width="0.8"/><path d="M-26.0,-3.5 L-26.0,3.5" stroke-width="0.8"/><path d="M-12.0,-8.2 L0.0,-8.2 A4.9,8.2 0 0 1 0.0,8.2 L-12.0,8.2 A4.9,8.2 0 0 1 -12.0,-8.2 Z" stroke-width="1.3" fill="#fff"/><ellipse cx="0.0" cy="0" rx="4.9" ry="8.2" stroke-width="1.3" fill="#fff"/><ellipse cx="0.3" cy="0" rx="2.7" ry="4.5" stroke-width="1.0" fill="none"/><ellipse cx="0.3" cy="0" rx="1.5" ry="2.5" stroke-width="1.5" fill="none"/></g>
<ellipse cx="714.4" cy="684.4" rx="10.3" ry="17.5" transform="rotate(20 714.4 684.4)" stroke-width="1.6" fill="none" />
<ellipse cx="714.8" cy="684.8" rx="8.6" ry="15.5" transform="rotate(20 714.8 684.8)" stroke-width="0.9" fill="none" />
<path d="M703.5,694.5 l2.5,5.5 l5,0.5" stroke-width="1.6" fill="none" />
<g transform="translate(750.0,701.5) rotate(29.5)"><path d="M-12.0,-15.0 L0.0,-15.0 A10.5,15.0 0 0 1 0.0,15.0 L-12.0,15.0 A10.5,15.0 0 0 1 -12.0,-15.0 Z" stroke-width="1.3" fill="#fff"/><path d="M-9.0,-15.0 A10.5,15.0 0 0 0 -9.0,15.0" stroke-width="1.0"/><path d="M-6.5,-15.0 A10.5,15.0 0 0 0 -6.5,15.0" stroke-width="1.0"/><path d="M-4.0,-15.0 A10.5,15.0 0 0 0 -4.0,15.0" stroke-width="1.0"/><ellipse cx="0.0" cy="0" rx="10.5" ry="15.0" stroke-width="1.3" fill="#fff"/><ellipse cx="2.0" cy="0" rx="2.5" ry="3.6" stroke-width="1.0" fill="none"/><path d="M0.5,-2.0 L3.5,2.0" stroke-width="0.7"/><path d="M3.5,-2.0 L0.5,2.0" stroke-width="0.7"/></g>
<g transform="translate(534.0,637.0) rotate(29.5)"><path d="M-18.0,-5.5 L0.0,-5.5 A3.0,5.5 0 0 1 0.0,5.5 L-18.0,5.5 A3.0,5.5 0 0 1 -18.0,-5.5 Z" stroke-width="1.2" fill="#fff"/><path d="M-18,-5.5 L-10,-5.5 L-10,5.5 L-18,5.5 Z" stroke-width="1" fill="#000"/><ellipse cx="-18.0" cy="0" rx="3.0" ry="5.5" stroke-width="1.2" fill="#333"/><path d="M-5.0,-5.5 A3.0,5.5 0 0 0 -5.0,5.5" stroke-width="1.2"/><ellipse cx="0.0" cy="0" rx="3.0" ry="5.5" stroke-width="1.4" fill="#fff"/><ellipse cx="0.0" cy="0" rx="1.8" ry="3.2" stroke-width="1.2" fill="#000"/></g>
<path d="M440.0,582.3L517.0,626.0" stroke-width="0.9" />
<path d="M546,650 Q549,640 557,641 Q563,644 570,655 L568,664 Q559,667 551,664 Q544,660 546,650 Z" stroke-width="1.6" fill="#fff" />
<ellipse cx="565.5" cy="659.5" rx="2.6" ry="5.0" transform="rotate(20 565.5 659.5)" stroke-width="1.2" fill="none" />
<path d="M548,654 Q553,661 562,662.5" stroke-width="0.9" fill="none" />
<ellipse cx="587.0" cy="672.6" rx="3.4" ry="3.8" transform="rotate(0 587.0 672.6)" stroke-width="1.4" fill="none" />
<ellipse cx="593.0" cy="677.0" rx="4.2" ry="4.8" transform="rotate(0 593.0 677.0)" stroke-width="1.4" fill="none" />
<ellipse cx="398.6" cy="647.3" rx="4.6" ry="6.8" transform="rotate(25 398.6 647.3)" stroke-width="1.9" fill="none" />
<ellipse cx="400.6" cy="648.3" rx="4.6" ry="6.8" transform="rotate(25 400.6 648.3)" stroke-width="1.9" fill="none" />
<g transform="translate(465.6,686.3) rotate(29.5)"><path d="M-52.0,-11.6 L0.0,-11.6 A7.7,11.6 0 0 1 0.0,11.6 L-52.0,11.6 A7.7,11.6 0 0 1 -52.0,-11.6 Z" stroke-width="1.3" fill="#fff"/><ellipse cx="0.0" cy="0" rx="7.7" ry="11.6" stroke-width="1.5" fill="#fff"/><ellipse cx="0.3" cy="0" rx="6.1" ry="9.3" stroke-width="1.0" fill="none"/><path d="M-50.0,-11.6 A7.7,11.6 0 0 0 -50.0,11.6" stroke-width="0.8"/></g>
<g transform="translate(548.5,733.5) rotate(29.5)"><path d="M-70,-5 L-40,-5 L-40,5 L-70,5 Z" stroke-width="1" fill="#000"/><ellipse cx="-70.0" cy="0" rx="2.6" ry="5.2" stroke-width="1.3" fill="#fff"/><path d="M-40.0,-4.8 L-8.0,-4.8 A2.4,4.8 0 0 1 -8.0,4.8 L-40.0,4.8 A2.4,4.8 0 0 1 -40.0,-4.8 Z" stroke-width="1.1" fill="#fff"/><path d="M-36.0,-4.6 L-36.0,4.6" stroke-width="0.9"/><path d="M-32.0,-4.6 L-32.0,4.6" stroke-width="0.9"/><path d="M-28.0,-4.6 L-28.0,4.6" stroke-width="0.9"/><path d="M-10.5,-8.8 L0.0,-8.8 A5.5,8.8 0 0 1 0.0,8.8 L-10.5,8.8 A5.5,8.8 0 0 1 -10.5,-8.8 Z" stroke-width="1.4" fill="#fff"/><ellipse cx="0.0" cy="0" rx="5.5" ry="8.8" stroke-width="1.4" fill="#fff"/><ellipse cx="0.3" cy="0" rx="2.9" ry="4.6" stroke-width="1.0" fill="none"/><ellipse cx="0.3" cy="0" rx="1.6" ry="2.5" stroke-width="1.6" fill="none"/></g>
<g transform="translate(589.3,759.6) rotate(29.5)"><path d="M-10.5,-16.4 L0.0,-16.4 A11.2,16.4 0 0 1 0.0,16.4 L-10.5,16.4 A11.2,16.4 0 0 1 -10.5,-16.4 Z" stroke-width="1.5" fill="#fff"/><ellipse cx="0.0" cy="0" rx="11.2" ry="16.4" stroke-width="1.5" fill="#fff"/><ellipse cx="2.5" cy="0" rx="2.2" ry="3.2" stroke-width="1.1" fill="none"/></g>
<ellipse cx="664.3" cy="746.4" rx="10.7" ry="17.9" transform="rotate(22 664.3 746.4)" stroke-width="1.6" fill="none" />
<ellipse cx="664.8" cy="746.8" rx="9.0" ry="16.0" transform="rotate(22 664.8 746.8)" stroke-width="0.9" fill="none" />
<g transform="translate(702.0,774.5) rotate(29.5)"><path d="M-19.0,-18.0 L0.0,-18.0 A11.2,18.0 0 0 1 0.0,18.0 L-19.0,18.0 A11.2,18.0 0 0 1 -19.0,-18.0 Z" stroke-width="1.5" fill="#fff"/><path d="M-17.0,-18.0 A11.2,18.0 0 0 0 -17.0,18.0" stroke-width="1.5"/><path d="M-14.5,-18.0 A11.2,18.0 0 0 0 -14.5,18.0" stroke-width="1.5"/><path d="M-12.0,-17.0 A10.5,17.0 0 0 0 -12.0,17.0" stroke-width="0.9"/><path d="M-9.0,-15.5 L0.0,-15.5 A9.6,15.5 0 0 1 0.0,15.5 L-9.0,15.5 A9.6,15.5 0 0 1 -9.0,-15.5 Z" stroke-width="1.2" fill="#fff"/><ellipse cx="0.0" cy="0" rx="9.6" ry="15.5" stroke-width="1.5" fill="#fff"/><ellipse cx="0.8" cy="0" rx="5.9" ry="9.5" stroke-width="1.2" fill="none"/><ellipse cx="1.0" cy="0" rx="4.0" ry="6.5" stroke-width="0.9" fill="none"/><ellipse cx="1.0" cy="0" rx="2.2" ry="3.5" stroke-width="0.9" fill="none"/></g>
<path d="M416.0,630.0L403.0,642.0" stroke-width="0.9" />
<path transform="translate(261.1,930.4) rotate(28.5)" d="M0,-152.8 A91.6,152.8 0 0 0 0,152.8 L36.0,152.8 L36.0,-152.8 Z" fill="#fff" stroke-width="0" style="stroke:none"/>
<path transform="translate(261.1,930.4) rotate(28.5)" d="M0,-152.8 A91.6,152.8 0 0 0 0,152.8" stroke-width="1.8" />
<path transform="translate(269.9,935.2) rotate(28.5)" d="M0,-152.8 A91.6,152.8 0 0 0 0,152.8" stroke-width="1.1" />
<path transform="translate(283.8,942.8) rotate(28.5)" d="M0,-152.8 A91.6,152.8 0 0 0 0,152.8" stroke-width="1.5" />
<path d="M334.0,796.1L365.6,813.3" stroke-width="1.3" />
<path d="M188.2,1064.7L219.8,1081.9" stroke-width="1.3" />
<path d="M347.3,804.3 L339.7,800.2 Q335.7,798.4 336.1,799.1 L343.7,803.3" stroke-width="1.25" fill="none" />
<path d="M338.4,802.1 L330.8,798.0 Q326.7,796.5 327.1,797.5 L334.6,801.6" stroke-width="1.25" fill="none" />
<path d="M329.1,801.2 L321.5,797.1 Q317.3,795.9 317.5,797.2 L325.1,801.3" stroke-width="1.25" fill="none" />
<path d="M319.2,801.7 L311.6,797.6 Q307.4,796.7 307.5,798.2 L315.1,802.3" stroke-width="1.25" fill="none" />
<path d="M309.1,803.5 L301.5,799.4 Q297.1,798.7 297.2,800.5 L304.8,804.7" stroke-width="1.25" fill="none" />
<path d="M298.6,806.7 L291.0,802.6 Q286.7,802.2 286.7,804.2 L294.3,808.3" stroke-width="1.25" fill="none" />
<path d="M288.1,811.1 L280.5,807.0 Q276.1,806.9 276.1,809.2 L283.7,813.3" stroke-width="1.25" fill="none" />
<path d="M277.5,816.8 L269.9,812.7 Q265.5,812.8 265.5,815.4 L273.1,819.5" stroke-width="1.25" fill="none" />
<path d="M266.9,823.7 L259.3,819.6 Q254.9,819.9 255.0,822.7 L262.6,826.9" stroke-width="1.25" fill="none" />
<path d="M256.5,831.7 L248.9,827.6 Q244.6,828.2 244.7,831.2 L252.3,835.3" stroke-width="1.25" fill="none" />
<path d="M246.4,840.8 L238.8,836.7 Q234.5,837.5 234.7,840.7 L242.3,844.8" stroke-width="1.25" fill="none" />
<path d="M236.6,850.9 L229.0,846.7 Q224.8,847.7 225.1,851.1 L232.7,855.3" stroke-width="1.25" fill="none" />
<path d="M227.2,861.8 L219.6,857.7 Q215.6,858.8 215.9,862.4 L223.5,866.5" stroke-width="1.25" fill="none" />
<path d="M218.4,873.5 L210.8,869.4 Q206.9,870.7 207.4,874.4 L215.0,878.5" stroke-width="1.25" fill="none" />
<path d="M210.2,885.8 L202.6,881.7 Q198.8,883.1 199.4,887.0 L207.0,891.1" stroke-width="1.25" fill="none" />
<path d="M202.7,898.7 L195.1,894.6 Q191.5,896.1 192.3,900.0 L199.8,904.2" stroke-width="1.25" fill="none" />
<path d="M196.0,912.1 L188.4,907.9 Q184.9,909.5 185.9,913.5 L193.5,917.6" stroke-width="1.25" fill="none" />
<path d="M190.1,925.7 L182.5,921.5 Q179.2,923.1 180.3,927.2 L187.9,931.3" stroke-width="1.25" fill="none" />
<path d="M185.1,939.4 L177.5,935.3 Q174.3,936.9 175.7,941.0 L183.3,945.1" stroke-width="1.25" fill="none" />
<path d="M181.0,953.2 L173.4,949.1 Q170.5,950.7 172.0,954.7 L179.6,958.9" stroke-width="1.25" fill="none" />
<path d="M177.9,966.9 L170.3,962.8 Q167.6,964.4 169.3,968.3 L176.9,972.5" stroke-width="1.25" fill="none" />
<path d="M175.8,980.4 L168.2,976.2 Q165.7,977.8 167.7,981.7 L175.2,985.8" stroke-width="1.25" fill="none" />
<path d="M174.7,993.4 L167.2,989.3 Q164.8,990.8 167.0,994.6 L174.6,998.7" stroke-width="1.25" fill="none" />
<path d="M174.7,1006.1 L167.1,1001.9 Q165.0,1003.2 167.4,1006.9 L175.0,1011.1" stroke-width="1.25" fill="none" />
<path d="M175.7,1018.1 L168.1,1013.9 Q166.2,1015.1 168.8,1018.7 L176.4,1022.8" stroke-width="1.25" fill="none" />
<path d="M177.7,1029.3 L170.2,1025.2 Q168.5,1026.2 171.3,1029.6 L178.9,1033.7" stroke-width="1.25" fill="none" />
<path d="M180.8,1039.8 L173.2,1035.7 Q171.7,1036.5 174.7,1039.7 L182.3,1043.8" stroke-width="1.25" fill="none" />
<path d="M184.8,1049.3 L177.2,1045.2 Q175.9,1045.8 179.1,1048.8 L186.7,1052.9" stroke-width="1.25" fill="none" />
<path d="M189.8,1057.8 L182.2,1053.7 Q181.1,1054.1 184.5,1056.9 L192.1,1061.0" stroke-width="1.25" fill="none" />
<path d="M195.6,1065.2 L188.0,1061.1 Q187.1,1061.2 190.7,1063.8 L198.2,1067.9" stroke-width="1.25" fill="none" />
<path d="M202.3,1071.4 L194.7,1067.3 Q193.9,1067.2 197.7,1069.5 L205.3,1073.6" stroke-width="1.25" fill="none" />
<ellipse cx="292.7" cy="947.6" rx="91.6" ry="152.8" transform="rotate(28.5 292.7 947.6)" stroke-width="0.01" fill="#fff" />
<path transform="translate(292.7,947.6) rotate(28.5)" d="M0,-152.8 A91.6,152.8 0 0 0 0,152.8" stroke-width="1.05" />
<path transform="translate(292.7,947.6) rotate(28.5)" d="M0,-152.8 A91.6,152.8 0 0 1 0,152.8" stroke-width="1.8" />
<clipPath id="hubclip"><ellipse cx="291.4" cy="948.4" rx="58.4" ry="96.3" transform="rotate(28.5 291.4 948.4)"/></clipPath>
<g clip-path="url(#hubclip)">
<ellipse cx="288.3" cy="946.7" rx="54.9" ry="90.5" transform="rotate(28.5 288.3 946.7)" stroke-width="0.9" fill="none" />
<ellipse cx="277.9" cy="941.1" rx="55.3" ry="91.2" transform="rotate(28.5 277.9 941.1)" stroke-width="1.4" fill="none" />
<ellipse cx="251.9" cy="926.9" rx="55.9" ry="92.3" transform="rotate(28.5 251.9 926.9)" stroke-width="0.9" fill="none" />
<ellipse cx="246.6" cy="924.1" rx="45.6" ry="75.1" transform="rotate(28.5 246.6 924.1)" stroke-width="1.2" fill="none" />
<ellipse cx="230.8" cy="915.5" rx="43.8" ry="72.2" transform="rotate(28.5 230.8 915.5)" stroke-width="0.8" fill="none" />
<ellipse cx="224.6" cy="912.1" rx="43.8" ry="72.2" transform="rotate(28.5 224.6 912.1)" stroke-width="1.4" fill="none" />
</g>
<ellipse cx="291.4" cy="948.4" rx="58.4" ry="96.3" transform="rotate(28.5 291.4 948.4)" stroke-width="1.6" fill="none" />
<path d="M254.4,926.2L384.0,1000.2" stroke-width="0.8" />
<path d="M254.4,926.2L259.5,930.3" stroke-width="1.2" />
<path d="M276.5,790.0L276.5,811.0" stroke-width="0.9" />
<path d="M150.4,767.1 L171,751.7 L185.4,728 L194.6,734.2 L221.4,749.6 L223.4,776.4 L225.5,792.8 L213.1,805.2 L212.1,825.7 Q208,833 200.8,836.5 Q196,836.5 192.6,834 Q184,828 176.1,819.6 Q168,808 159.7,801 Q153,797.5 148.4,794.9 Q148,780 150.4,767.1 Z" stroke-width="1.6" fill="#fff" />
<path d="M171.0,751.7 C172.0,753.4 173.0,758.8 177.0,762.0 C181.0,765.2 189.8,768.4 195.0,771.0 C200.2,773.6 205.0,775.7 208.0,777.5 C211.0,779.3 212.2,777.4 213.0,782.0 C213.8,786.6 213.1,801.3 213.1,805.2" stroke-width="1.2" fill="none" />
<path d="M152.5,768.0 C154.6,769.5 159.6,774.0 165.0,777.0 C170.4,780.0 179.7,783.6 185.0,786.0 C190.3,788.4 193.8,791.0 197.0,791.5 C200.2,792.0 202.8,789.4 204.0,789.0" stroke-width="1.1" fill="none" />
<path d="M197.0,791.5 C197.1,794.6 197.3,803.1 197.5,810.0 C197.7,816.9 197.9,829.2 198.0,833.0" stroke-width="1.0" fill="none" />
<path d="M151.0,793.0 C151.3,790.8 152.8,784.0 153.0,780.0 C153.2,776.0 152.6,770.8 152.5,769.0" stroke-width="0.9" fill="none" />
<path d="M158.0,774.0L159.0,798.0" stroke-width="0.8" />
<path d="M163.5,777.0L164.5,804.0" stroke-width="0.8" />
<path d="M176.0,782.0L177.0,817.0" stroke-width="0.8" />
<path d="M190.0,790.0L191.0,830.0" stroke-width="0.8" />
<path d="M185.4,728.0 L177.0,762.0" stroke-width="1.1" fill="none" />
<path d="M194.6,734.2 L195.0,741.0 L186.0,769.0" stroke-width="1.1" fill="none" />
<path d="M195.0,741.0 L200.0,758.0 L207.0,745.0 L195.0,741.0" stroke-width="1.4" fill="none" />
<path d="M207.0,745.0 L221.4,749.6" stroke-width="1.1" fill="none" />
<path d="M207.0,745.0 L196.0,776.0" stroke-width="1.0" fill="none" />
<path d="M215.0,750.0 L205.0,778.0" stroke-width="1.0" fill="none" />
<path d="M221.4,749.6 L213.0,780.0" stroke-width="1.2" fill="none" />
<path d="M188.0,732.0 L180.0,760.0" stroke-width="0.8" fill="none" />
<ellipse cx="201.7" cy="798.4" rx="3.5" ry="4.8" transform="rotate(25 201.7 798.4)" stroke-width="2.1" fill="#fff" />
<ellipse cx="202.1" cy="798.7" rx="1.5" ry="2.4" transform="rotate(25 202.1 798.7)" stroke-width="0.9" fill="none" />
<ellipse cx="217.1" cy="795.8" rx="3.0" ry="4.2" transform="rotate(25 217.1 795.8)" stroke-width="2.1" fill="#fff" />
<ellipse cx="217.5" cy="796.1" rx="1.3" ry="2.1" transform="rotate(25 217.5 796.1)" stroke-width="0.9" fill="none" />
<ellipse cx="203.6" cy="820.9" rx="3.4" ry="4.6" transform="rotate(25 203.6 820.9)" stroke-width="2.1" fill="#fff" />
<ellipse cx="204.0" cy="821.2" rx="1.5" ry="2.3" transform="rotate(25 204.0 821.2)" stroke-width="0.9" fill="none" />
<ellipse cx="219.0" cy="769.5" rx="3.4" ry="4.6" transform="rotate(25 219.0 769.5)" stroke-width="2.1" fill="#fff" />
<ellipse cx="219.4" cy="769.8" rx="1.5" ry="2.3" transform="rotate(25 219.4 769.8)" stroke-width="0.9" fill="none" />
<path d="M194.6,734.2 C197.2,731.9 204.0,726.0 210.0,720.2 C216.0,714.4 223.8,705.4 230.6,699.6 C237.4,693.8 244.2,688.8 251.1,685.2 C257.9,681.6 264.1,679.5 271.7,678.0 C279.2,676.5 290.6,677.2 296.4,676.0 C302.2,674.8 302.2,673.4 306.7,670.8 C311.1,668.2 320.4,662.3 323.1,660.6" stroke-width="1.6" fill="none" />
<path d="M216.2,730.5 C219.0,727.8 226.5,719.3 233.0,714.0 C239.5,708.7 247.5,703.1 255.0,698.5 C262.5,693.9 274.1,688.3 277.9,686.3" stroke-width="0.8" fill="none" />
<path d="M217.6,732.5 C220.4,729.8 227.9,721.4 234.4,716.0 C240.9,710.6 249.0,704.9 256.4,700.3 C263.8,695.7 275.2,690.3 279.0,688.3" stroke-width="0.8" fill="none" />
<path d="M203.0,739.0 C205.7,736.3 213.0,728.5 219.3,723.0 C225.6,717.5 232.1,711.6 240.8,706.0 C249.5,700.4 262.1,693.6 271.7,689.5 C281.3,685.4 293.9,682.5 298.4,681.1" stroke-width="0.9" fill="none" />
<path d="M222.3,747.0 C224.6,744.2 231.2,735.5 236.0,730.0 C240.8,724.5 244.1,719.1 251.1,714.0 C258.1,708.9 269.3,703.2 277.9,699.6 C286.5,696.0 294.6,694.3 302.5,692.4 C310.4,690.5 318.7,689.8 325.2,688.3 C331.7,686.8 337.2,683.9 341.6,683.2 C346.1,682.5 350.2,684.0 351.9,684.2" stroke-width="1.5" fill="none" />
<path d="M225.5,762.0 C227.6,760.0 233.7,754.2 238.0,750.0 C242.3,745.8 244.4,743.0 251.1,736.7 C257.8,730.4 268.6,717.8 277.9,712.0 C287.2,706.2 298.1,703.6 306.7,701.7 C315.3,699.8 323.1,702.4 329.3,700.7 C335.5,699.0 339.9,693.3 343.7,691.4 C347.5,689.5 350.5,689.7 351.9,689.4" stroke-width="1.5" fill="none" />
<path d="M225.5,772.0 C228.4,770.0 235.9,765.9 242.9,760.0 C249.9,754.1 259.4,743.7 267.6,736.7 C275.8,729.7 283.7,722.6 292.3,718.1 C300.9,713.6 310.8,711.7 319.0,710.0 C327.2,708.3 337.8,708.2 341.6,707.9" stroke-width="0.9" fill="none" />
<path d="M225.5,782.5 C227.9,780.9 234.7,776.8 240.0,773.0 C245.3,769.2 251.0,765.7 257.3,760.0 C263.6,754.3 270.7,745.0 277.9,738.7 C285.1,732.4 292.6,726.4 300.5,722.3 C308.4,718.2 317.0,715.9 325.2,714.0 C333.4,712.1 343.6,712.4 349.8,711.0 C356.0,709.6 360.1,706.7 362.2,705.8" stroke-width="1.5" fill="none" />
<path d="M298.4,676.5 L310.5,689.5" stroke-width="0.9" fill="none" />
<path d="M262.0,738.0 L270.0,727.0 L284.0,716.0" stroke-width="0.9" fill="none" stroke-dasharray="4 1.5"/>
<path d="M323.4,669.0 L323.4,646.3 L327.7,645.2 L352.4,661.9 L352.4,688.0" stroke-width="1.6" fill="none" />
<path d="M335.5,653.4L335.5,677.4" stroke-width="1.0" />
<path d="M341.1,653.4 L346.8,649.1 Q352,647.5 358.1,649.1 L399.1,673.2 L400.5,691.6 L408.3,719.9 L393.5,731.2 L380.7,722.7 L379.3,712.1 L370.1,715.6 L364.5,711.4 L364.5,669.7" stroke-width="1.6" fill="none" />
<path d="M352.4,661.9 L364.5,669.7 L377.9,673.9 L383.5,680.3 L394.9,676.7 L399.1,673.2" stroke-width="1.4" fill="none" />
<path d="M367.3,672.0L367.3,712.0" stroke-width="0.9" />
<path d="M360.0,667.0L360.0,702.0" stroke-width="0.8" />
<path d="M352.4,688.0 L356.7,707.1 L368.0,715.0" stroke-width="1.2" fill="none" />
<path d="M383.5,680.3 L385.5,698.0 L389.2,714.2 L393.5,731.2" stroke-width="0.9" fill="none" />
<ellipse cx="372.2" cy="681.0" rx="3.8" ry="6.0" transform="rotate(25 372.2 681.0)" stroke-width="2.4" fill="none" />
<ellipse cx="387.8" cy="691.6" rx="2.8" ry="5.0" transform="rotate(25 387.8 691.6)" stroke-width="1.9" fill="none" />
<ellipse cx="373.6" cy="704.3" rx="2.8" ry="5.0" transform="rotate(25 373.6 704.3)" stroke-width="1.9" fill="none" />
<ellipse cx="393.5" cy="711.4" rx="2.8" ry="5.0" transform="rotate(25 393.5 711.4)" stroke-width="1.9" fill="none" />
<ellipse cx="404.8" cy="720.6" rx="1.2" ry="1.6" transform="rotate(0 404.8 720.6)" stroke-width="1.4" fill="none" />
<path d="M377.9,673.9 L378.5,688.0 L372.0,693.0" stroke-width="1.0" fill="none" />
<path d="M312.8,675.0 L321.0,670.8 L335.5,678.0 L325.2,681.1 Z" stroke-width="1.0" fill="none" />
<path d="M316.0,674.5 L328.0,680.5" stroke-width="0.8" fill="none" />
<path d="M319.0,672.5 L331.5,679.5" stroke-width="0.8" fill="none" />
<path d="M341.6,693.5 L351.9,688.3 L360.0,693.5" stroke-width="1.0" fill="none" />
<path d="M196.8,698.8L215.3,712.7" stroke-width="0.9" />
<path d="M370.8,1028.5 C371.8,1023.5 374.7,1018.0 378.6,1013.0 C382.5,1008.0 391.2,1000.0 397.0,995.0 C402.8,990.0 410.9,983.0 417.0,979.7 C423.1,976.4 430.3,974.8 437.7,973.3 C445.1,971.8 461.0,969.0 466.0,969.4 C471.0,969.8 468.1,973.3 471.0,975.8 C473.9,978.3 482.9,982.7 485.2,986.0 C487.5,989.3 487.6,993.2 486.5,997.7 C485.4,1002.2 480.7,1010.6 478.0,1016.0 C475.3,1021.4 472.6,1026.4 468.5,1033.7 C464.4,1041.0 455.2,1058.6 450.5,1064.5 C445.8,1070.4 440.9,1071.1 437.0,1073.0 C433.1,1074.9 428.2,1077.1 424.8,1077.4 C421.4,1077.7 419.9,1077.5 414.5,1074.8 C409.1,1072.1 395.2,1063.6 388.8,1059.4 C382.4,1055.2 374.7,1051.1 372.0,1046.5 C369.3,1041.9 369.8,1033.5 370.8,1028.5 Z" stroke-width="1.6" fill="#fff" />
<path d="M375.5,1030.0 C376.8,1027.6 378.8,1020.8 383.0,1015.5 C387.2,1010.2 394.8,1003.7 401.0,998.5 C407.2,993.3 413.7,987.9 420.0,984.5 C426.3,981.1 431.5,979.7 439.0,978.0 C446.5,976.3 460.7,975.1 465.0,974.5" stroke-width="1.0" fill="none" />
<path d="M375.5,1030.0 C375.7,1032.2 373.8,1038.8 376.5,1043.0 C379.2,1047.2 385.4,1051.0 392.0,1055.5 C398.6,1060.0 412.0,1067.6 416.0,1070.0" stroke-width="1.0" fill="none" />
<ellipse cx="441.5" cy="1032.4" rx="26.0" ry="35.5" transform="rotate(27 441.5 1032.4)" stroke-width="1.6" fill="none" />
<path d="M424.0,1058.0 C426.7,1058.0 434.8,1060.5 440.0,1058.0 C445.2,1055.5 451.2,1049.0 455.0,1043.0 C458.8,1037.0 461.5,1028.2 463.0,1022.0 C464.5,1015.8 463.8,1008.7 464.0,1006.0" stroke-width="1.0" fill="none" />
<path d="M455.5,1006.0 C454.9,1008.7 453.9,1016.3 452.0,1022.0 C450.1,1027.7 447.3,1034.3 444.0,1040.0 C440.7,1045.7 434.0,1053.3 432.0,1056.0" stroke-width="0.9" fill="none" />
<ellipse cx="477.5" cy="995.0" rx="1.8" ry="2.4" transform="rotate(25 477.5 995.0)" stroke-width="1.1" fill="none" />
<ellipse cx="476.2" cy="1009.3" rx="2.6" ry="4.6" transform="rotate(25 476.2 1009.3)" stroke-width="1.8" fill="none" />
<ellipse cx="401.2" cy="1040.9" rx="1.8" ry="2.4" transform="rotate(25 401.2 1040.9)" stroke-width="1.1" fill="none" />
<ellipse cx="404.3" cy="1049.0" rx="2.6" ry="4.6" transform="rotate(25 404.3 1049.0)" stroke-width="1.8" fill="none" />
<path d="M400.4,1028.5L423.5,1009.3" stroke-width="0.8" />
<path d="M430.0,1000.3L463.4,987.4" stroke-width="0.8" />
<path d="M482.7,999.0L503.2,1010.5" stroke-width="0.8" />
<path d="M424.8,965.5L437.7,972.0" stroke-width="0.8" />
<g transform="translate(410.0,957.0) rotate(29.5)"><path d="M0.0,-3.8 L14.0,-3.8 A1.9,3.8 0 0 1 14.0,3.8 L0.0,3.8 A1.9,3.8 0 0 1 0.0,-3.8 Z" stroke-width="1.0" fill="#fff"/><path d="M13.2,-3.8 A1.9,3.8 0 0 0 13.2,3.8" stroke-width="1.0"/><path d="M11.5,-3.8 A1.9,3.8 0 0 0 11.5,3.8" stroke-width="1.0"/><path d="M9.8,-3.8 A1.9,3.8 0 0 0 9.8,3.8" stroke-width="1.0"/><path d="M8.1,-3.8 A1.9,3.8 0 0 0 8.1,3.8" stroke-width="1.0"/><path d="M6.4,-3.8 A1.9,3.8 0 0 0 6.4,3.8" stroke-width="1.0"/><path d="M4.7,-3.8 A1.9,3.8 0 0 0 4.7,3.8" stroke-width="1.0"/><ellipse cx="14.0" cy="0" rx="1.9" ry="3.8" stroke-width="1.0" fill="#fff"/><path d="M-6.0,-6.4 L0.0,-6.4 A3.5,6.4 0 0 1 0.0,6.4 L-6.0,6.4 A3.5,6.4 0 0 1 -6.0,-6.4 Z" stroke-width="1.8" fill="#fff"/><ellipse cx="0.0" cy="0" rx="4.1" ry="7.5" stroke-width="2.1" fill="#fff"/><path d="M-1.5,-7.5 A4.1,7.5 0 0 0 -1.5,7.5" stroke-width="1.8"/><path d="M-6.0,-2.2 L0.0,-2.2" stroke-width="0.8"/><path d="M-6.0,2.6 L0.0,2.6" stroke-width="0.8"/><ellipse cx="-6.0" cy="0" rx="3.5" ry="6.4" stroke-width="1.8" fill="#fff"/></g>
<g transform="translate(156.0,862.0) rotate(29.5)"><path d="M0.0,-4.0 L15.0,-4.0 A2.0,4.0 0 0 1 15.0,4.0 L0.0,4.0 A2.0,4.0 0 0 1 0.0,-4.0 Z" stroke-width="1.0" fill="#fff"/><path d="M14.2,-4.0 A2.0,4.0 0 0 0 14.2,4.0" stroke-width="1.0"/><path d="M12.5,-4.0 A2.0,4.0 0 0 0 12.5,4.0" stroke-width="1.0"/><path d="M10.8,-4.0 A2.0,4.0 0 0 0 10.8,4.0" stroke-width="1.0"/><path d="M9.1,-4.0 A2.0,4.0 0 0 0 9.1,4.0" stroke-width="1.0"/><path d="M7.4,-4.0 A2.0,4.0 0 0 0 7.4,4.0" stroke-width="1.0"/><path d="M5.7,-4.0 A2.0,4.0 0 0 0 5.7,4.0" stroke-width="1.0"/><path d="M4.0,-4.0 A2.0,4.0 0 0 0 4.0,4.0" stroke-width="1.0"/><ellipse cx="15.0" cy="0" rx="2.0" ry="4.0" stroke-width="1.0" fill="#fff"/><path d="M-6.0,-6.8 L0.0,-6.8 A3.7,6.8 0 0 1 0.0,6.8 L-6.0,6.8 A3.7,6.8 0 0 1 -6.0,-6.8 Z" stroke-width="1.8" fill="#fff"/><ellipse cx="0.0" cy="0" rx="4.4" ry="8.0" stroke-width="2.1" fill="#fff"/><path d="M-1.5,-8.0 A4.4,8.0 0 0 0 -1.5,8.0" stroke-width="1.8"/><path d="M-6.0,-2.4 L0.0,-2.4" stroke-width="0.8"/><path d="M-6.0,2.8 L0.0,2.8" stroke-width="0.8"/><ellipse cx="-6.0" cy="0" rx="3.7" ry="6.8" stroke-width="1.8" fill="#fff"/></g>
<g transform="translate(123.5,891.5) rotate(29.5)"><path d="M0.0,-6.2 L25.0,-6.2 A3.1,6.2 0 0 1 25.0,6.2 L0.0,6.2 A3.1,6.2 0 0 1 0.0,-6.2 Z" stroke-width="1.0" fill="#fff"/><path d="M24.2,-6.2 A3.1,6.2 0 0 0 24.2,6.2" stroke-width="1.0"/><path d="M22.5,-6.2 A3.1,6.2 0 0 0 22.5,6.2" stroke-width="1.0"/><path d="M20.8,-6.2 A3.1,6.2 0 0 0 20.8,6.2" stroke-width="1.0"/><path d="M19.1,-6.2 A3.1,6.2 0 0 0 19.1,6.2" stroke-width="1.0"/><path d="M17.4,-6.2 A3.1,6.2 0 0 0 17.4,6.2" stroke-width="1.0"/><path d="M15.7,-6.2 A3.1,6.2 0 0 0 15.7,6.2" stroke-width="1.0"/><path d="M14.0,-6.2 A3.1,6.2 0 0 0 14.0,6.2" stroke-width="1.0"/><path d="M12.3,-6.2 A3.1,6.2 0 0 0 12.3,6.2" stroke-width="1.0"/><path d="M10.6,-6.2 A3.1,6.2 0 0 0 10.6,6.2" stroke-width="1.0"/><path d="M8.9,-6.2 A3.1,6.2 0 0 0 8.9,6.2" stroke-width="1.0"/><path d="M7.2,-6.2 A3.1,6.2 0 0 0 7.2,6.2" stroke-width="1.0"/><ellipse cx="25.0" cy="0" rx="3.1" ry="6.2" stroke-width="1.0" fill="#fff"/><path d="M-9.0,-10.6 L0.0,-10.6 A5.8,10.6 0 0 1 0.0,10.6 L-9.0,10.6 A5.8,10.6 0 0 1 -9.0,-10.6 Z" stroke-width="1.4" fill="#fff"/><ellipse cx="0.0" cy="0" rx="6.9" ry="12.5" stroke-width="1.7" fill="#fff"/><path d="M-1.5,-12.5 A6.9,12.5 0 0 0 -1.5,12.5" stroke-width="1.4"/><path d="M-9.0,-3.8 L0.0,-3.8" stroke-width="0.8"/><path d="M-9.0,4.4 L0.0,4.4" stroke-width="0.8"/><ellipse cx="-9.0" cy="0" rx="5.8" ry="10.6" stroke-width="1.4" fill="#fff"/></g>
<path d="M149.5,906.4L165.7,915.7" stroke-width="0.8" />
<g transform="translate(437.0,774.8) rotate(-14)"><path d="M-26.0,-4.5 L0.0,-4.5 A2.2,4.5 0 0 1 0.0,4.5 L-26.0,4.5 A2.2,4.5 0 0 1 -26.0,-4.5 Z" stroke-width="1.3" fill="#fff"/><path d="M-26.0,-4.5 A2.2,4.5 0 0 0 -26.0,4.5" stroke-width="1.3"/><ellipse cx="0.0" cy="0" rx="4.6" ry="8.4" stroke-width="1.7" fill="#fff"/><path d="M0.0,-6.4 L5.0,-6.4 A3.5,6.4 0 0 1 5.0,6.4 L0.0,6.4 A3.5,6.4 0 0 1 0.0,-6.4 Z" stroke-width="1.4" fill="#fff"/><ellipse cx="5.0" cy="0" rx="3.5" ry="6.4" stroke-width="1.5" fill="#fff"/><ellipse cx="5.0" cy="0" rx="1.9" ry="3.4" stroke-width="0.9" fill="none"/></g>
<g transform="translate(442.5,798.8) rotate(-12)"><path d="M-26.0,-4.5 L0.0,-4.5 A2.2,4.5 0 0 1 0.0,4.5 L-26.0,4.5 A2.2,4.5 0 0 1 -26.0,-4.5 Z" stroke-width="1.3" fill="#fff"/><path d="M-26.0,-4.5 A2.2,4.5 0 0 0 -26.0,4.5" stroke-width="1.3"/><ellipse cx="0.0" cy="0" rx="4.6" ry="8.4" stroke-width="1.7" fill="#fff"/><path d="M0.0,-6.4 L5.0,-6.4 A3.5,6.4 0 0 1 5.0,6.4 L0.0,6.4 A3.5,6.4 0 0 1 0.0,-6.4 Z" stroke-width="1.4" fill="#fff"/><ellipse cx="5.0" cy="0" rx="3.5" ry="6.4" stroke-width="1.5" fill="#fff"/><ellipse cx="5.0" cy="0" rx="1.9" ry="3.4" stroke-width="0.9" fill="none"/></g>
<path d="M627,926.8 L627,944 L620.8,1047 M673.7,926.8 L673.7,944 L680.2,1047" stroke-width="1.3" fill="none" />
<ellipse cx="650.3" cy="926.8" rx="23.4" ry="12.6" transform="rotate(0 650.3 926.8)" stroke-width="1.4" fill="none" />
<path d="M627,943 A23.4,12.6 0 0 0 673.7,943" stroke-width="1.5" fill="none" />
<path d="M628,933 A23.4,12.6 0 0 0 672.7,933" stroke-width="0.7" fill="none" />
<path d="M617,1047.5 Q616,1050.5 620,1051.5 Q650,1055 680,1051.5 Q684.5,1050.5 683.6,1047.5 Q650,1044.5 617,1047.5 Z" stroke-width="1.3" fill="none" />
<path d="M636.8,1027.0L624.8,1041.8" stroke-width="0.9" />
<path d="M658.2,1021.8L673.0,1037.8" stroke-width="0.9" stroke-dasharray="2.5 1"/>
<path d="M470.8,91.4 A41,18 0 0 1 552.6,91.4" stroke-width="1.4" fill="none" />
<path d="M471,91.4 L471,135 Q466,137 465.4,142 L465.4,168 M552.4,91.4 L552.4,134 Q558.5,136.5 559,142 L559,184" stroke-width="1.4" fill="none" />
<path d="M465.4,168 Q470,186 483,198 Q497,206.5 512,206.8 Q530,205.5 545,197.5 Q556,190.5 559,184" stroke-width="1.4" fill="none" />
<path d="M474.6,95.5 Q476,104 483,110 M477.5,93.5 Q479,101 485,106.5" stroke-width="0.9" fill="none" />
<path d="M548.6,97 Q547,105 540.5,111 M545.6,95.6 Q544.5,102.5 538.5,108 M549.5,84 l-3,-3" stroke-width="0.9" fill="none" />
<path d="M471,135 Q474,150 486,158 M468,147 Q472,158 481,164 M466,156 Q469,163 476,168" stroke-width="0.9" fill="none" />
<path d="M552.4,134 Q551,149 541,157 M556,147 Q554,160 545,167 M558,160 Q556,172 547,179 M558.5,172 Q556,182 549,188" stroke-width="0.9" fill="none" />
<ellipse cx="467.4" cy="178.8" rx="5.8" ry="8.6" transform="rotate(-28 467.4 178.8)" stroke-width="1.6" fill="#fff" />
<ellipse cx="468.2" cy="179.2" rx="4.2" ry="6.8" transform="rotate(-28 468.2 179.2)" stroke-width="0.9" fill="none" />
<ellipse cx="481.8" cy="187.3" rx="5.2" ry="7.8" transform="rotate(-28 481.8 187.3)" stroke-width="1.6" fill="#fff" />
<ellipse cx="482.5" cy="187.7" rx="3.8" ry="6.2" transform="rotate(-28 482.5 187.7)" stroke-width="0.9" fill="none" />
<path d="M463,171.5 L474,165.5 M470,186 L477.5,180.5 M488,193.5 L499.3,187.5 M497,181.5 Q501,183 500,188" stroke-width="1.0" fill="none" />
<ellipse cx="511.7" cy="95.8" rx="11.0" ry="4.8" transform="rotate(0 511.7 95.8)" stroke-width="1.0" fill="#fff" />
<path d="M507.6,70 L507.6,97 L516.6,97 L516.6,70 Z" stroke-width="1.1" fill="#fff" />
<path d="M507.8,73.0L516.4,72.2" stroke-width="1.0" />
<path d="M507.8,75.1L516.4,74.3" stroke-width="1.0" />
<path d="M507.8,77.2L516.4,76.4" stroke-width="1.0" />
<path d="M507.8,79.3L516.4,78.5" stroke-width="1.0" />
<path d="M507.8,81.4L516.4,80.6" stroke-width="1.0" />
<path d="M507.8,83.5L516.4,82.7" stroke-width="1.0" />
<path d="M507.8,85.6L516.4,84.8" stroke-width="1.0" />
<path d="M507.8,87.7L516.4,86.9" stroke-width="1.0" />
<path d="M507.8,89.8L516.4,89.0" stroke-width="1.0" />
<path d="M507.8,91.9L516.4,91.1" stroke-width="1.0" />
<path d="M507.8,94.0L516.4,93.2" stroke-width="1.0" />
<path d="M507.8,96.1L516.4,95.3" stroke-width="1.0" />
<path d="M503.4,66 L506,70.6 L518,70.6 L521,66 L518,61.2 L506.5,61.2 Z" stroke-width="1.4" fill="#fff" />
<ellipse cx="512.0" cy="65.0" rx="6.2" ry="3.2" transform="rotate(0 512.0 65.0)" stroke-width="1.0" fill="none" />
<path d="M493.3,209.5 L493.3,223.5 L499.2,223.5 L499.2,209.8 Z" stroke-width="1.0" fill="#000" />
<path d="M530.5,203.5 l3.6,0 l0,3.6 l-3.6,0 Z" stroke-width="1.0" fill="#000" />
<path d="M496.4,223.5L496.4,299.0" stroke-width="0.9" />
<path d="M532.6,207.0L532.6,322.0" stroke-width="0.9" />
<ellipse cx="532.6" cy="328.4" rx="5.6" ry="5.2" transform="rotate(0 532.6 328.4)" stroke-width="2.8" fill="#fff" />
<path d="M528.5,326 L537,326 M529,330.5 L536,330.5" stroke-width="1.4" fill="none" />
<path d="M540.0,325.5L546.0,321.5" stroke-width="0.9" />
<path d="M435.6,201.3 L482.9,226 L493.2,234.2" stroke-width="1.9" fill="none" />
<path d="M434.4,224.2 L494.8,261.2" stroke-width="1.3" fill="none" />
<path d="M434.4,227.8 L493,264.5" stroke-width="1.3" fill="none" />
<path d="M434.4,226 L494,262.9" stroke-width="3.2" fill="none" stroke-dasharray="1.6 1.8" style="stroke-linecap:butt"/>
<path d="M443.8,222.9 L464.4,232.2 Q474,227.5 482.9,230 Q494,232.5 501.4,239.4 Q508,246 509.6,251.7 L511.7,262" stroke-width="1.1" fill="none" />
<path d="M470,233.5 Q480,232.5 488,237 Q497,242 500,251" stroke-width="0.9" fill="none" />
<path d="M434.5,251.7 L454,264 L454,278.4 L434.5,272.3 M434.5,258 L447,265.5" stroke-width="1.0" fill="none" />
<path d="M454,264 L463,259 L466,261" stroke-width="1.1" fill="none" />
<ellipse cx="507.6" cy="268.5" rx="6.6" ry="9.6" transform="rotate(-15 507.6 268.5)" stroke-width="2.8" fill="#fff" />
<ellipse cx="508.4" cy="269.0" rx="3.4" ry="5.8" transform="rotate(-15 508.4 269.0)" stroke-width="1.2" fill="none" />
<path d="M497,262 Q499,256 505,256.5 M498,272 Q500,277 505,277.5" stroke-width="1.2" fill="none" />
<path d="M464.4,251.7 L497.3,286.7 M468.5,249.6 L501.4,282.5 M459.2,260 L491,292.9" stroke-width="1.5" fill="none" />
<path d="M464.4,251.7 Q462,256 459.2,260" stroke-width="1.2" fill="none" />
<path d="M487,301 L489,297 L503.4,284.6 Q510,280 522,280.5 L530.2,281.5 L538.4,276.4 Q541.5,278 539.4,282.5 L530.2,288.7 L526,297 Q516,303 505.5,305.2 L495.2,308.3 Q488,308 487,301 Z" stroke-width="1.5" fill="#fff" />
<ellipse cx="513.7" cy="288.2" rx="10.4" ry="5.2" transform="rotate(-8 513.7 288.2)" stroke-width="1.5" fill="none" />
<path d="M505,290.5 Q513,294.5 522,289.5" stroke-width="0.9" fill="none" />
<ellipse cx="535.6" cy="278.6" rx="2.4" ry="2.8" transform="rotate(0 535.6 278.6)" stroke-width="1.5" fill="none" />
<ellipse cx="496.6" cy="300.5" rx="3.2" ry="1.8" transform="rotate(0 496.6 300.5)" stroke-width="1.2" fill="none" />
<path d="M534,268 L528,276 M524,270 l-8,6" stroke-width="1.0" fill="none" />
<path d="M487,305.2 L503.4,325.7 L509.6,323.7 L522,313.4 L526,297 M509.6,323.7 L512,304" stroke-width="1.3" fill="none" />
<path d="M469.5,307.2 L503.4,325.7" stroke-width="1.3" fill="none" />
<path d="M443.8,282.5 L443.8,319.6 M449,284.6 L449,321.6 M469.5,288.7 L469.5,307.2" stroke-width="1.3" fill="none" />
<path d="M449,284.6 L459.2,280.5 M462.3,280.5 L487,290.8 M459.2,286 L484,297 L487,301 M443.8,282.5 L452,279" stroke-width="1.1" fill="none" />
<ellipse cx="456.9" cy="299.5" rx="3.8" ry="6.4" transform="rotate(20 456.9 299.5)" stroke-width="2.0" fill="none" />
<ellipse cx="457.2" cy="299.8" rx="1.6" ry="3.2" transform="rotate(20 457.2 299.8)" stroke-width="0.9" fill="none" />
<path d="M434.5,314.4 L443.8,314.4 M438,294 Q441,298 439,304 L439,314" stroke-width="0.9" fill="none" />
<ellipse cx="452.4" cy="286.9" rx="2.2" ry="2.6" transform="rotate(0 452.4 286.9)" stroke-width="2.2" fill="#000" />
<ellipse cx="460.1" cy="313.3" rx="2.2" ry="2.6" transform="rotate(0 460.1 313.3)" stroke-width="2.2" fill="#000" />
<ellipse cx="452.4" cy="319.0" rx="2.2" ry="2.6" transform="rotate(0 452.4 319.0)" stroke-width="2.2" fill="#000" />
<ellipse cx="458.8" cy="261.8" rx="2.2" ry="2.6" transform="rotate(0 458.8 261.8)" stroke-width="2.2" fill="#000" />
</svg>
</body></html>
